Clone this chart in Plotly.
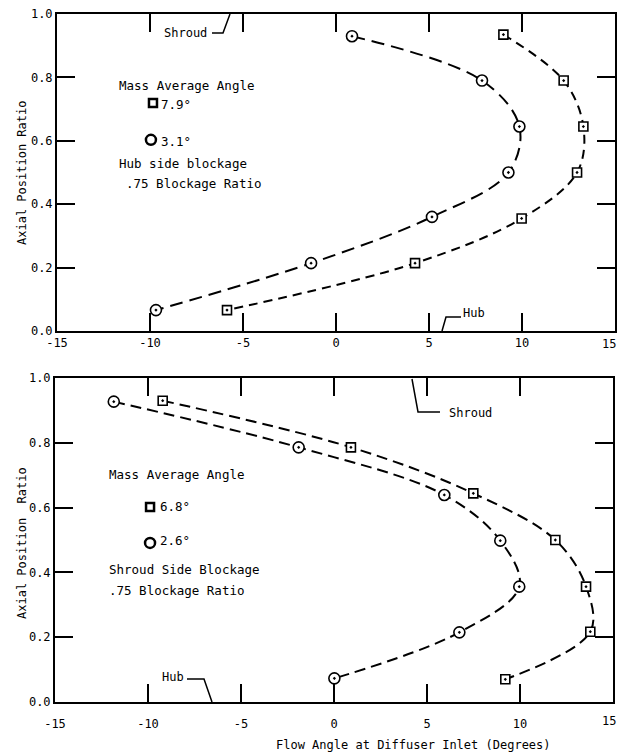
import plotly.graph_objects as go

# ---------------- data ----------------
# Top panel: hub side blockage
top_circle_x = [0.86, 7.85, 9.86, 9.27, 5.16, -1.34, -9.68]
top_circle_y = [0.93, 0.79, 0.645, 0.50, 0.36, 0.214, 0.066]
top_square_x = [9.0, 12.24, 13.3, 12.96, 9.98, 4.25, -5.86]
top_square_y = [0.935, 0.79, 0.645, 0.50, 0.355, 0.214, 0.066]

# Bottom panel: shroud side blockage
bot_circle_x = [-11.84, -1.9, 5.93, 8.94, 9.96, 6.74, 0.02]
bot_circle_y = [0.927, 0.786, 0.639, 0.498, 0.356, 0.215, 0.073]
bot_square_x = [-9.21, 0.91, 7.49, 11.9, 13.55, 13.78, 9.21]
bot_square_y = [0.93, 0.786, 0.644, 0.50, 0.356, 0.217, 0.07]

x_ticks = [-15, -10, -5, 0, 5, 10, 15]
x_tick_labels = ["-15", "-10", "-5", "0", "5", "10", "15"]
y_ticks = [0.0, 0.2, 0.4, 0.6, 0.8, 1.0]

top_square_label = "7.9°"
top_circle_label = "3.1°"
bot_square_label = "6.8°"
bot_circle_label = "2.6°"

# ---------------- layout helpers ----------------
W, H = 618, 755
FONT = "DejaVu Sans Mono"


def px(x):
    return x / W


def py(y):
    return 1 - y / H


fig = go.Figure()

marker_line = dict(color="black", width=1.6)


def add_series(xs, ys, symbol, size, dash, xa, ya):
    fig.add_trace(go.Scatter(
        x=xs, y=ys, mode="lines+markers", xaxis=xa, yaxis=ya,
        line=dict(color="black", width=2, dash=dash, shape="spline", smoothing=1.0),
        marker=dict(symbol=symbol, size=size, color="white", line=marker_line),
        showlegend=False, hoverinfo="skip"))


add_series(top_circle_x, top_circle_y, "circle-dot", 11, "13px,7px", "x", "y")
add_series(top_square_x, top_square_y, "square-dot", 9, "9px,6px", "x", "y")
add_series(bot_circle_x, bot_circle_y, "circle-dot", 11, "11px,6px", "x2", "y2")
add_series(bot_square_x, bot_square_y, "square-dot", 9, "11px,6px", "x2", "y2")

# legend keys (positioned as layout elements)
legend_keys = [
    ("x", "y", -9.84, 0.719, "square-open", 8),
    ("x", "y", -9.95, 0.603, "circle-open", 10),
    ("x2", "y2", -9.89, 0.602, "square-open", 8),
    ("x2", "y2", -9.89, 0.491, "circle-open", 10),
]
for xa, ya, kx, ky, sym, sz in legend_keys:
    fig.add_trace(go.Scatter(
        x=[kx], y=[ky], mode="markers", xaxis=xa, yaxis=ya,
        marker=dict(symbol=sym, size=sz, color="black", line=dict(color="black", width=2.5)),
        showlegend=False, hoverinfo="skip"))

axis_common = dict(
    showline=True, linecolor="black", linewidth=2, mirror="allticks",
    ticks="inside", ticklen=18, tickwidth=2, tickcolor="black",
    showgrid=False, zeroline=False, automargin=False,
    ticklabeloverflow="allow",
    tickfont=dict(family=FONT, size=12, color="black"),
)

# the last x label sits at the page edge; it is drawn as an annotation below
x_axis_text = x_tick_labels[:-1] + [""]

fig.update_layout(
    width=W, height=H,
    margin=dict(l=0, r=0, t=0, b=0, autoexpand=False),
    paper_bgcolor="white", plot_bgcolor="white",
    font=dict(family=FONT, color="black"),
    xaxis=dict(domain=[px(57), px(615)], range=[-15, 15], tickvals=x_ticks,
               ticktext=x_axis_text, anchor="y", **axis_common),
    yaxis=dict(domain=[py(331), py(14)], range=[0, 1], tickvals=y_ticks,
               tickformat=".1f", anchor="x", **axis_common),
    xaxis2=dict(domain=[px(55), px(613)], range=[-15, 15], tickvals=x_ticks,
                ticktext=x_axis_text, ticklabelstandoff=10, anchor="y2", **axis_common),
    yaxis2=dict(domain=[py(702), py(378)], range=[0, 1], tickvals=y_ticks,
                tickformat=".1f", anchor="x2", **axis_common),
)


def text(x, y, s, anchor="left", size=12.5, angle=0):
    fig.add_annotation(x=px(x), y=py(y), xref="paper", yref="paper", text=s,
                       showarrow=False, xanchor=anchor, yanchor="middle",
                       textangle=angle, font=dict(family=FONT, size=size, color="black"))


# edge tick labels
text(618, 344, x_tick_labels[-1], anchor="right", size=12)
text(618, 721, x_tick_labels[-1], anchor="right", size=12)

# top panel text
text(117, 86, "Mass Average Angle")
text(159, 104, top_square_label)
text(159, 141, top_circle_label)
text(117, 164, "Hub side blockage")
text(124, 184, ".75 Blockage Ratio")
text(162, 33, "Shroud", size=12)
text(461, 313, "Hub", size=12)

# bottom panel text
text(107, 474, "Mass Average Angle")
text(158, 506, bot_square_label)
text(158, 540, bot_circle_label)
text(107, 569, "Shroud Side Blockage")
text(107, 590, ".75 Blockage Ratio")
text(447, 413, "Shroud", size=12)
text(160, 677, "Hub", size=12)

# axis titles
text(22, 173, "Axial Position Ratio", anchor="center", size=12, angle=-90)
text(22, 543, "Axial Position  Ratio", anchor="center", size=12, angle=-90)
text(413, 745, "Flow Angle at Diffuser Inlet (Degrees)", anchor="center", size=12)

# callout leader lines
leaders = [
    [(212, 33), (223, 33), (230, 14)],
    [(461, 317), (446, 317), (442, 331)],
    [(412, 379), (418, 412), (440, 412)],
    [(187, 679), (204, 679), (212, 702)],
]
for pts in leaders:
    path = "M " + " L ".join(f"{px(a):.5f},{py(b):.5f}" for a, b in pts)
    fig.add_shape(type="path", path=path, xref="paper", yref="paper",
                  line=dict(color="black", width=1.5))

fig.write_html(
    "out.html",
    config={"displayModeBar": False},
    post_script="document.body.style.margin='0';document.body.style.padding='0';"
                "document.body.style.overflow='hidden';",
)
